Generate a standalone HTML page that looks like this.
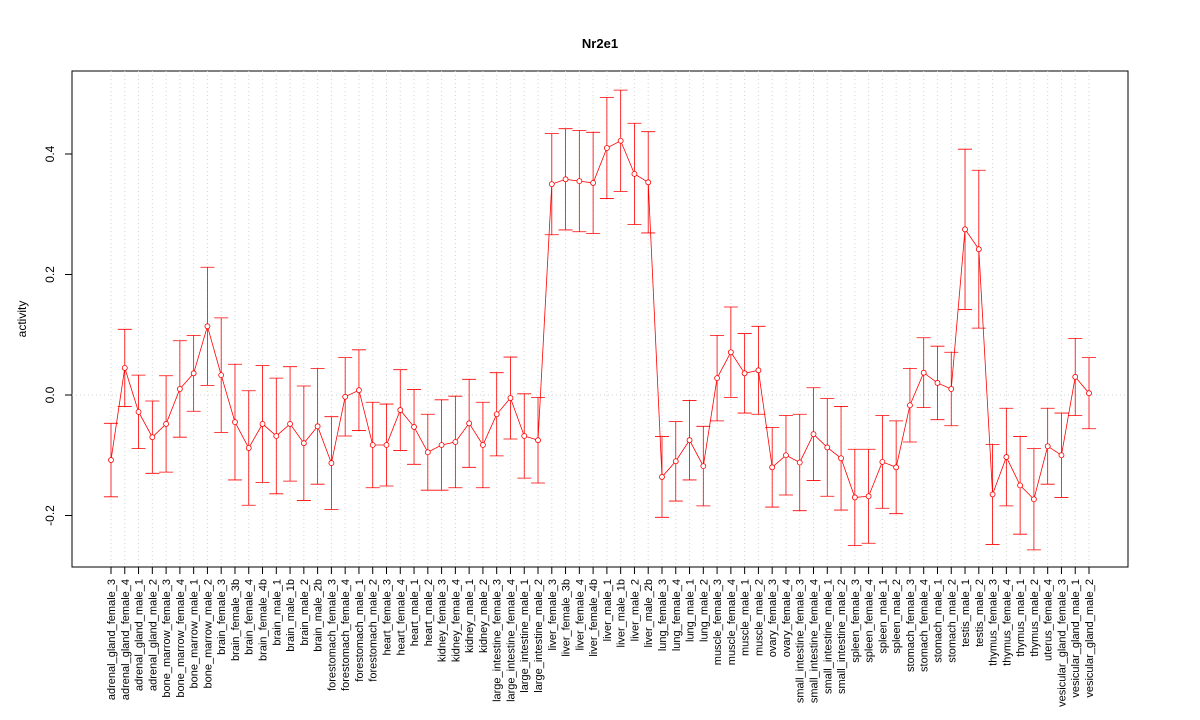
<!DOCTYPE html>
<html><head><meta charset="utf-8"><style>
html,body{margin:0;padding:0;background:#fff}
svg{display:block;font-family:"Liberation Sans",Arial,sans-serif}
</style></head><body>
<svg id="chart" width="1200" height="720" viewBox="0 0 1200 720" xmlns="http://www.w3.org/2000/svg">
<text x="600" y="48" text-anchor="middle" font-size="13" font-weight="bold">Nr2e1</text>
<text transform="translate(26,319) rotate(-90)" text-anchor="middle" font-size="12">activity</text>
<rect x="72" y="71" width="1056" height="496" fill="none" stroke="#000"/>
<g id="grid"></g><g id="axes"></g><g id="series"></g>
</svg>
<script>
const categories=["adrenal_gland_female_3","adrenal_gland_female_4","adrenal_gland_male_1","adrenal_gland_male_2","bone_marrow_female_3","bone_marrow_female_4","bone_marrow_male_1","bone_marrow_male_2","brain_female_3","brain_female_3b","brain_female_4","brain_female_4b","brain_male_1","brain_male_1b","brain_male_2","brain_male_2b","forestomach_female_3","forestomach_female_4","forestomach_male_1","forestomach_male_2","heart_female_3","heart_female_4","heart_male_1","heart_male_2","kidney_female_3","kidney_female_4","kidney_male_1","kidney_male_2","large_intestine_female_3","large_intestine_female_4","large_intestine_male_1","large_intestine_male_2","liver_female_3","liver_female_3b","liver_female_4","liver_female_4b","liver_male_1","liver_male_1b","liver_male_2","liver_male_2b","lung_female_3","lung_female_4","lung_male_1","lung_male_2","muscle_female_3","muscle_female_4","muscle_male_1","muscle_male_2","ovary_female_3","ovary_female_4","small_intestine_female_3","small_intestine_female_4","small_intestine_male_1","small_intestine_male_2","spleen_female_3","spleen_female_4","spleen_male_1","spleen_male_2","stomach_female_3","stomach_female_4","stomach_male_1","stomach_male_2","testis_male_1","testis_male_2","thymus_female_3","thymus_female_4","thymus_male_1","thymus_male_2","uterus_female_4","vesicular_gland_female_3","vesicular_gland_male_1","vesicular_gland_male_2"];
const values=[-0.108,0.045,-0.028,-0.07,-0.048,0.01,0.036,0.114,0.033,-0.045,-0.088,-0.048,-0.068,-0.048,-0.08,-0.052,-0.113,-0.003,0.008,-0.083,-0.083,-0.025,-0.053,-0.095,-0.083,-0.078,-0.047,-0.083,-0.032,-0.005,-0.068,-0.075,0.35,0.358,0.355,0.352,0.41,0.422,0.367,0.353,-0.136,-0.11,-0.075,-0.118,0.028,0.071,0.036,0.041,-0.12,-0.1,-0.112,-0.065,-0.087,-0.105,-0.17,-0.168,-0.111,-0.12,-0.017,0.037,0.02,0.01,0.275,0.242,-0.165,-0.103,-0.15,-0.173,-0.085,-0.1,0.03,0.003];
const errors=[0.061,0.064,0.061,0.06,0.08,0.08,0.063,0.098,0.095,0.096,0.095,0.097,0.096,0.095,0.095,0.096,0.077,0.065,0.067,0.071,0.068,0.067,0.062,0.063,0.075,0.076,0.073,0.071,0.069,0.068,0.07,0.071,0.084,0.084,0.084,0.084,0.084,0.084,0.084,0.084,0.067,0.066,0.066,0.066,0.071,0.075,0.066,0.073,0.066,0.066,0.08,0.077,0.081,0.086,0.08,0.078,0.077,0.077,0.061,0.058,0.061,0.061,0.133,0.131,0.083,0.081,0.081,0.084,0.063,0.07,0.064,0.059];
const yTicks=[-0.2,0.0,0.2,0.4];
const yTickLabels=["-0.2","0.0","0.2","0.4"];
const NS="http://www.w3.org/2000/svg";
const xScale=i=>111+i*(1089-111)/(categories.length-1);
const yScale=v=>395-602.5*v;
function mk(tag,attrs,parent){const e=document.createElementNS(NS,tag);for(const k in attrs)e.setAttribute(k,attrs[k]);parent.appendChild(e);return e;}
const grid=document.getElementById('grid'),axes=document.getElementById('axes'),series=document.getElementById('series');
categories.forEach((c,i)=>{
  const x=xScale(i);
  const g=mk('line',{x1:x,x2:x,y1:71,y2:567,stroke:'#d3d3d3','stroke-dasharray':'1,3'},grid);
  
  
  const t=mk('line',{x1:x,x2:x,y1:567,y2:574,stroke:'#000'},axes);
  
  
  const l=mk('text',{transform:`translate(${x+4},579) rotate(-90)`,'text-anchor':'end','font-size':'11'},axes);
  l.textContent=c;
  
  
});
const h=mk('line',{x1:72,x2:1128,y1:yScale(0),y2:yScale(0),stroke:'#d3d3d3','stroke-dasharray':'1,3'},grid);


yTicks.forEach((v,i)=>{
  const y=yScale(v);
  const t=mk('line',{x1:65,x2:72,y1:y,y2:y,stroke:'#000'},axes);
  
  
  const l=mk('text',{transform:`translate(54,${y}) rotate(-90)`,'text-anchor':'middle','font-size':'12'},axes);
  l.textContent=yTickLabels[i];
  
  
});
const pts=values.map((v,i)=>xScale(i)+','+yScale(v)).join(' ');
const line=mk('polyline',{points:pts,fill:'none',stroke:'#ff0000','stroke-width':'0.8'},series);


values.forEach((v,i)=>{
  const x=xScale(i),y1=yScale(v+errors[i]),y2=yScale(v-errors[i]);
  const eb=mk('path',{d:`M${x},${y1}V${y2}M${x-7},${y1}H${x+7}M${x-7},${y2}H${x+7}`,stroke:'#ff0000',fill:'none','stroke-width':'0.8'},series);
  
  
  const p=mk('circle',{cx:x,cy:yScale(v),r:2.5,fill:'#fff',stroke:'#ff0000','stroke-width':'0.8'},series);
  
  
});
</script>
</body></html>
